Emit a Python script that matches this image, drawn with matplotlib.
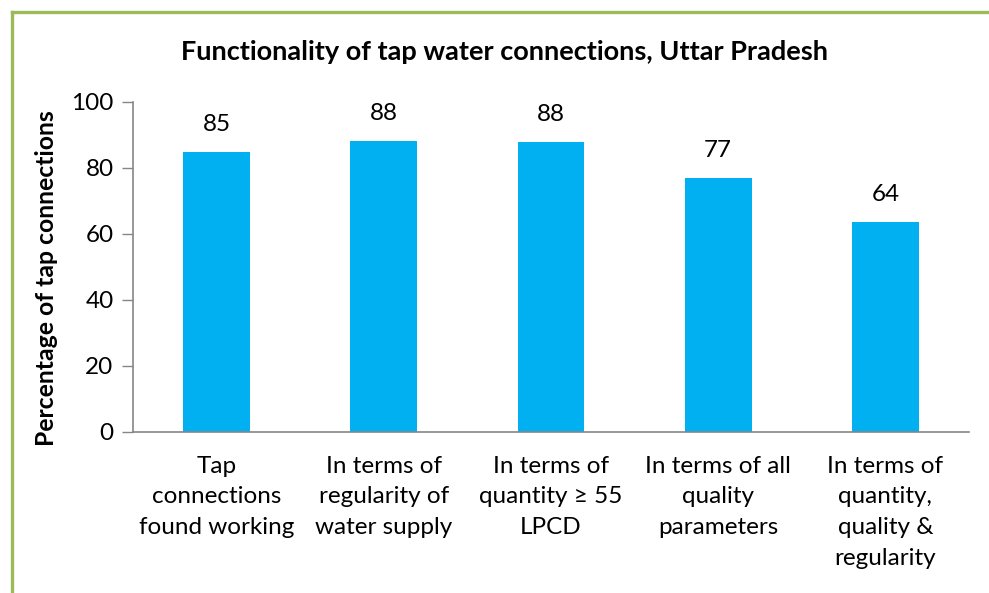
import numpy as np
import matplotlib.pyplot as plt
from matplotlib.lines import Line2D

# Data
categories = ["Tap\nconnections\nfound working",
              "In terms of\nregularity of\nwater supply",
              "In terms of\nquantity \u2265 55\nLPCD",
              "In terms of all\nquality\nparameters",
              "In terms of\nquantity,\nquality &\nregularity"]
values = [84.9, 88.2, 87.9, 77.0, 63.7]
labels = ["85", "88", "88", "77", "64"]

plt.rcParams['font.family'] = ['Lato', 'DejaVu Sans']

fig = plt.figure(figsize=(9.89, 5.93), dpi=100)
ax = fig.add_axes([133/989, 1 - 432/593, (969 - 133)/989, (432 - 102)/593])

x = np.arange(len(values))
ax.bar(x, values, width=0.4, color='#00B0F0')

for xi, v, lab in zip(x, values, labels):
    ax.text(xi, v + 5, lab, ha='center', va='bottom', fontsize=17.5)

ax.set_xlim(-0.5, len(values) - 0.5)
ax.set_ylim(0, 100)
ax.set_yticks([0, 20, 40, 60, 80, 100])
ax.set_xticks(x)
ax.set_xticklabels(categories, fontsize=17.5, linespacing=1.57, va='top')
ax.tick_params(axis='x', length=0, pad=17)
ax.tick_params(axis='y', length=8, width=1, color='#868686', labelsize=17.5, pad=6)
for s in ['top', 'right']:
    ax.spines[s].set_visible(False)
for s in ['left', 'bottom']:
    ax.spines[s].set_color('#868686')
    ax.spines[s].set_linewidth(1.2)

fig.text(47/989, 1 - 278/593, "Percentage of tap connections", rotation=90,
         ha='center', va='center', fontsize=17.8, fontweight='bold')
fig.text(505/989, 1 - 52/593, "Functionality of tap water connections, Uttar Pradesh",
         ha='center', va='center', fontsize=19.5, fontweight='bold')

# Green frame (top and left edges)
fig.add_artist(Line2D([12/989, 1], [1 - 12/593, 1 - 12/593], transform=fig.transFigure,
                      color='#9BBB59', linewidth=2.4))
fig.add_artist(Line2D([12/989, 12/989], [0, 1 - 12/593], transform=fig.transFigure,
                      color='#9BBB59', linewidth=2.4))

fig.savefig("out.png", dpi=100)
